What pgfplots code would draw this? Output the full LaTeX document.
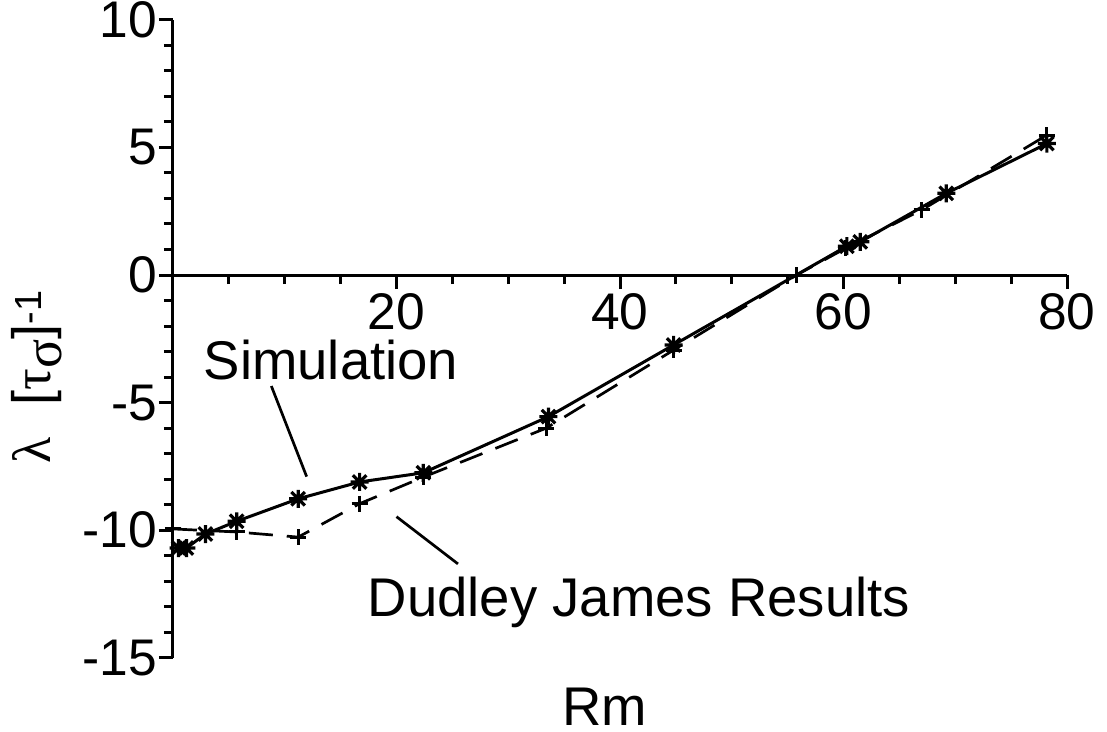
\documentclass[border=0pt]{standalone}
\usepackage{pgfplots}
\pgfplotsset{compat=1.18}
\usepackage{fontspec}
\setmainfont{Liberation Sans}
\newfontfamily\greekfont{Liberation Serif}
\pgfdeclareplotmark{star8}{%
  \pgfpathmoveto{\pgfqpoint{0pt}{\pgfplotmarksize}}\pgfpathlineto{\pgfqpoint{0pt}{-\pgfplotmarksize}}%
  \pgfpathmoveto{\pgfqpoint{\pgfplotmarksize}{0pt}}\pgfpathlineto{\pgfqpoint{-\pgfplotmarksize}{0pt}}%
  \pgfpathmoveto{\pgfqpoint{0.75\pgfplotmarksize}{0.75\pgfplotmarksize}}\pgfpathlineto{\pgfqpoint{-0.75\pgfplotmarksize}{-0.75\pgfplotmarksize}}%
  \pgfpathmoveto{\pgfqpoint{0.75\pgfplotmarksize}{-0.75\pgfplotmarksize}}\pgfpathlineto{\pgfqpoint{-0.75\pgfplotmarksize}{0.75\pgfplotmarksize}}%
  \pgfusepathqstroke}
\begin{document}
\begin{tikzpicture}
\useasboundingbox (-173pt,-456pt) rectangle (934pt,275pt);
\begin{axis}[
  at={(0pt,0pt)}, anchor=origin,
  scale only axis, width=894pt, height=638pt,
  xmin=0, xmax=80, ymin=-15, ymax=10,
  axis x line=middle, axis y line=left,
  axis line style={-, line width=3pt},
  every tick/.style={black, line width=3pt},
  xtick={20,40,60,80}, xticklabels={20,40,60,80},
  minor xtick={5,10,15,25,30,35,45,50,55,65,70,75},
  ytick={-15,-10,-5,0,5,10}, yticklabels={-15,-10,-5,0,5,10},
  minor ytick={-14,-13,-12,-11,-9,-8,-7,-6,-4,-3,-2,-1,1,2,3,4,6,7,8,9},
  tick align=outside,
  major tick length=14pt, minor tick length=9pt,
  tick label style={font=\fontsize{51.5}{60}\selectfont},
  xticklabel style={inner sep=0pt, anchor=north, yshift=-4pt},
  yticklabel style={inner sep=0pt, anchor=east, xshift=-2pt},
  clip=false,
]
\addplot[black, line width=3pt, mark=star8, mark size=9pt, mark options={line width=3.2pt}] coordinates {
 (0.5,-10.7) (1.2,-10.7) (2.9,-10.15) (5.7,-9.65) (11.2,-8.77) (16.7,-8.11) (22.4,-7.75)
 (33.6,-5.55) (44.8,-2.74) (60.3,1.13) (61.5,1.30) (69.2,3.2) (78.2,5.15)
};
\addplot[black, line width=2.7pt, dash pattern=on 24pt off 14pt, mark=+, mark size=8pt, mark options={solid, line width=3pt}] coordinates {
 (0,-9.95) (5.7,-10.07) (11.2,-10.27) (16.7,-8.96) (22.4,-7.92) (33.4,-6.0)
 (44.8,-2.94) (55.8,0) (60.2,1.05) (67,2.55) (78.2,5.48)
};
\draw[line width=2.7pt] (axis cs:8.8,-4.35) -- (axis cs:11.96,-7.9);
\draw[line width=2.7pt] (axis cs:20.0,-9.47) -- (axis cs:25.5,-11.32);
\node[anchor=base, inner sep=0pt, font=\fontsize{54.5}{62}\selectfont] at (axis cs:14.14,-4.11) {Simulation};
\node[anchor=base, inner sep=0pt, font=\fontsize{54.5}{62}\selectfont] at (axis cs:41.7,-13.4) {Dudley James Results};
\node[anchor=base, inner sep=0pt, font=\fontsize{54.5}{62}\selectfont] at (axis cs:38.66,-17.65) {Rm};
\node[rotate=90, inner sep=0pt, font=\fontsize{54}{62}\selectfont] at (axis cs:-12.2,-4.0) {{\greekfont λ}\hspace{0.6em}[{\greekfont τ\raisebox{-0.2em}{σ}}]\textsuperscript{-1}};
\end{axis}
\end{tikzpicture}
\end{document}
